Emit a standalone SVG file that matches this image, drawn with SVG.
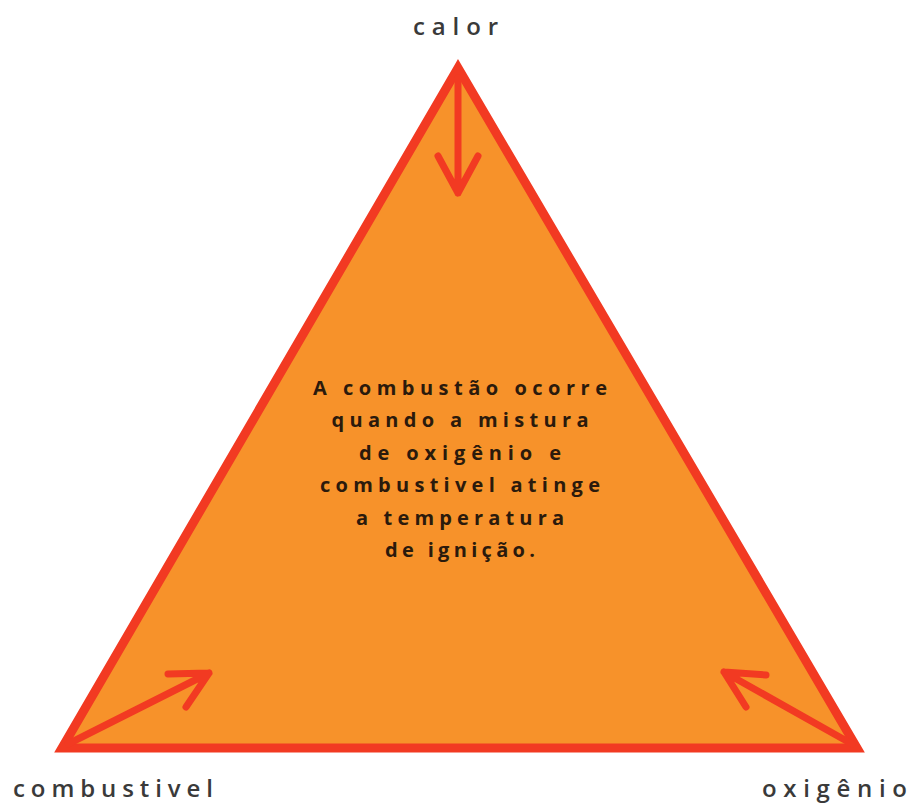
<svg xmlns="http://www.w3.org/2000/svg" width="911" height="805" viewBox="0 0 911 805">
  <defs>
    <style>
      .label { font-family: "Open Sans", "Noto Sans", sans-serif; font-size: 24px; font-weight: 600; fill: #3a3a3a; }
      .body { font-family: "Open Sans", "Noto Sans", sans-serif; font-size: 20px; font-weight: bold; fill: #2b1a0c; text-anchor: middle; }
      .arrow { fill: none; stroke: #f23a22; stroke-width: 7; stroke-linecap: round; stroke-linejoin: round; }
    </style>
  </defs>
  <rect width="911" height="805" fill="#ffffff"/>
  <g id="triangle">
    <polygon points="458,68 62,748 857,748" fill="#f7922a" stroke="#f23a22" stroke-width="9" stroke-linejoin="miter"/>
    <g class="body">
      <text x="460" y="395" textLength="294" lengthAdjust="spacing">A combustão ocorre</text>
      <text x="460" y="427" textLength="257" lengthAdjust="spacing">quando a mistura</text>
      <text x="460" y="460" textLength="202" lengthAdjust="spacing">de oxigênio e</text>
      <text x="460" y="492" textLength="280" lengthAdjust="spacing">combustivel atinge</text>
      <text x="460" y="525" textLength="208" lengthAdjust="spacing">a temperatura</text>
      <text x="460" y="557" textLength="150" lengthAdjust="spacing">de ignição.</text>
    </g>
  </g>
  <g id="connectors">
    <path class="arrow" d="M458,78 L458,193 M438,156 L458,193 L478,156"/>
    <path class="arrow" d="M68,744 L209,673 M168,674 L209,673 L186,707"/>
    <path class="arrow" d="M852,744 L724,672 M766,675 L724,672 L746,707"/>
  </g>
  <g id="calor">
    <text class="label" x="413" y="35" textLength="85" lengthAdjust="spacing">calor</text>
  </g>
  <g id="combustivel">
    <text class="label" x="13" y="797" textLength="200" lengthAdjust="spacing">combustivel</text>
  </g>
  <g id="oxigenio">
    <text class="label" x="762" y="797" textLength="145" lengthAdjust="spacing">oxigênio</text>
  </g>
</svg>
